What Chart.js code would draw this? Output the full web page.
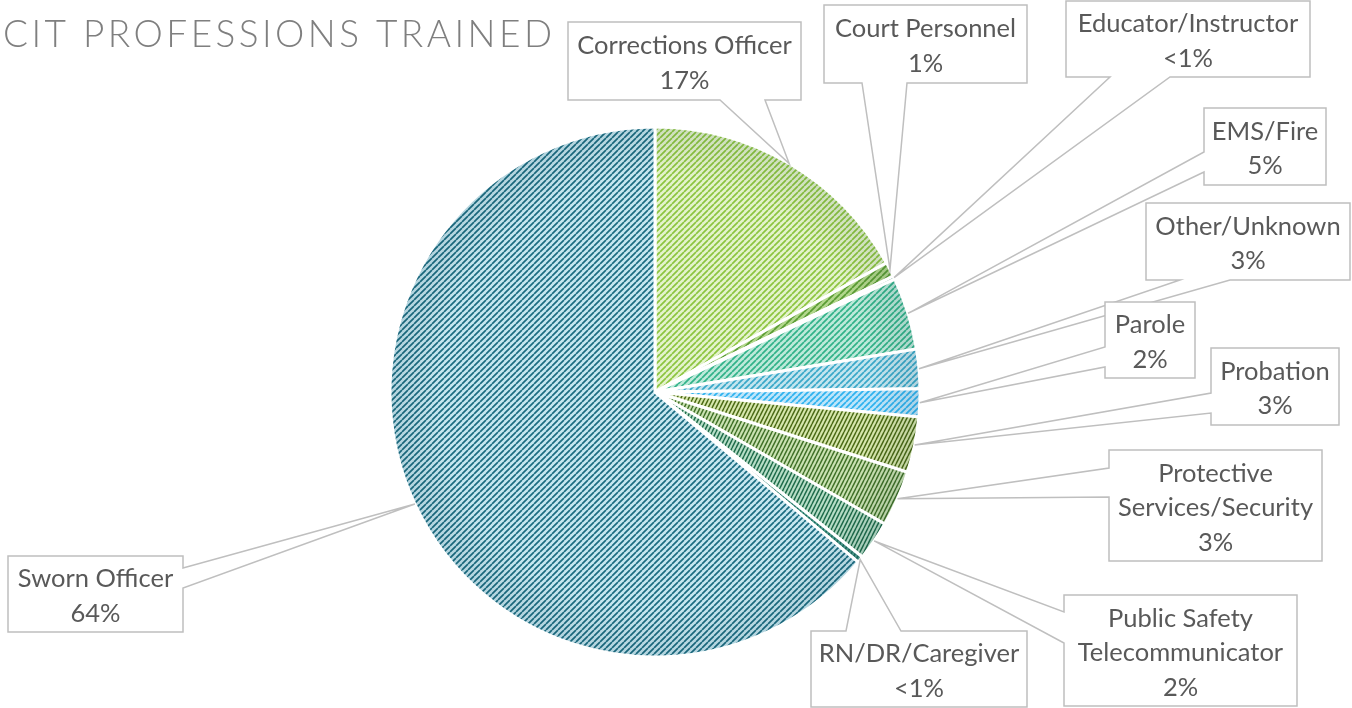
<!DOCTYPE html>
<html><head><meta charset="utf-8">
<script src="https://cdn.jsdelivr.net/npm/chart.js@4.4.1/dist/chart.umd.min.js"></script>
<style>html,body{margin:0;padding:0;background:#fff;overflow:hidden}#wrap{position:relative;width:1352px;height:708px}</style>
</head><body><div id="wrap"><canvas id="c" width="1352" height="708"></canvas></div>
<script>
// ---- data ----
const titleText = 'CIT PROFESSIONS TRAINED';
const categories = ['Corrections Officer','Court Personnel','Educator/Instructor','EMS/Fire','Other/Unknown','Parole','Probation','Protective Services/Security','Public Safety Telecommunicator','RN/DR/Caregiver','Sworn Officer'];
const shares = [16.9, 0.9, 0.2, 4.4, 2.4, 1.7, 3.4, 3.4, 2.4, 0.4, 63.9];
const shareLabels = ['17%','1%','<1%','5%','3%','2%','3%','3%','2%','<1%','64%'];
const wrapBreaks = {'Protective Services/Security':['Protective','Services/Security'],'Public Safety Telecommunicator':['Public Safety','Telecommunicator']};

// ---- styles ----
const fillBg = ['#e4f3cc','#b2d78c','#6dbb8c','#bde9da','#c3e5ef','#bde5fa','#d8e8ae','#cbe3b3','#b8dfc8','#4d9c8c','#c6e7f0'];
const fillFg = ['#8cc53f','#5a9c33','#2f8a5c','#31b289','#39a8c8','#2eb2ee','#4d6c18','#42722a','#216d4c','#1b6a5d','#1b6c81'];
const steep  = [false,false,false,false,false,false,true,true,true,true,false];
// callout layout: box [x,y,w,h], pointer side, pointer base positions along that side
const callouts = [
  {box:[568,22,233,78], side:'bottom', base:[720,765]},
  {box:[824,5,203,78], side:'bottom', base:[862,907]},
  {box:[1066,1,244,76], side:'bottom', base:[1110,1170]},
  {box:[1204,108,122,77], side:'left', base:[152,172]},
  {box:[1146,203,204,77], side:'bottom', base:[1180,1230]},
  {box:[1105,302,90,76], side:'left', base:[347,367]},
  {box:[1211,348,128,77], side:'left', base:[393,413]},
  {box:[1109,450,213,111], side:'left', base:[468,497]},
  {box:[1064,595,233,111], side:'left', base:[612,643]},
  {box:[811,631,216,76], side:'top', base:[846,901]},
  {box:[8,556,175,76], side:'right', base:[568,588]}
];

function makePattern(bg, fg, st) {
  const c = document.createElement('canvas');
  const w = st ? 4 : 6, h = st ? 8 : 6;
  c.width = w; c.height = h;
  const x = c.getContext('2d');
  x.fillStyle = bg; x.fillRect(0,0,w,h);
  x.strokeStyle = fg; x.lineWidth = st ? 1.5 : 1.7;
  x.beginPath();
  for (const dx of [-w,0,w]) { x.moveTo(dx, h); x.lineTo(dx + w, 0); }
  x.stroke();
  return x.createPattern(c, 'repeat');
}
const patterns = fillBg.map((b,i)=>makePattern(b, fillFg[i], steep[i]));

const calloutPlugin = {
  id: 'callouts',
  afterDatasetsDraw(chart) {
    const ctx = chart.ctx;
    const meta = chart.getDatasetMeta(0);
    ctx.save();
    // subtle shading at outer rim
    const a0 = meta.data[0];
    const g = ctx.createRadialGradient(a0.x, a0.y, a0.outerRadius*0.82, a0.x, a0.y, a0.outerRadius);
    g.addColorStop(0,'rgba(0,0,0,0)'); g.addColorStop(1,'rgba(0,40,60,0.10)');
    meta.data.forEach(arc => {
      ctx.beginPath();
      ctx.moveTo(arc.x, arc.y);
      ctx.arc(arc.x, arc.y, arc.outerRadius - 1.5, arc.startAngle + 0.006, arc.endAngle - 0.006);
      ctx.closePath();
      ctx.fillStyle = g; ctx.fill();
    });
    ctx.font = '25.5px Lato, "Open Sans", sans-serif';
    ctx.textAlign = 'center'; ctx.textBaseline = 'middle';
    meta.data.forEach((arc, i) => {
      const co = callouts[i];
      const mid = (arc.startAngle + arc.endAngle) / 2;
      const ax = arc.x + Math.cos(mid) * arc.outerRadius;
      const ay = arc.y + Math.sin(mid) * arc.outerRadius;
      const [x,y,w,h] = co.box;
      const [a,b] = co.base;
      ctx.fillStyle = '#ffffff';
      ctx.fillRect(x, y, w, h);
      let pts;
      if (co.side === 'bottom') pts = [[x,y],[x+w,y],[x+w,y+h],[b,y+h],[ax,ay],[a,y+h],[x,y+h]];
      else if (co.side === 'top') pts = [[x,y],[a,y],[ax,ay],[b,y],[x+w,y],[x+w,y+h],[x,y+h]];
      else if (co.side === 'left') pts = [[x,y],[x+w,y],[x+w,y+h],[x,y+h],[x,b],[ax,ay],[x,a]];
      else pts = [[x,y],[x+w,y],[x+w,a],[ax,ay],[x+w,b],[x+w,y+h],[x,y+h]];
      ctx.beginPath();
      pts.forEach((p,k)=> k ? ctx.lineTo(p[0],p[1]) : ctx.moveTo(p[0],p[1]));
      ctx.closePath();
      ctx.strokeStyle = '#bfbfbf'; ctx.lineWidth = 1.5; ctx.lineJoin = 'miter';
      ctx.stroke();
      const lines = (wrapBreaks[categories[i]] || [categories[i]]).concat([shareLabels[i]]);
      const lh = 34.5;
      const cy = y + h/2 + 2.5;
      ctx.fillStyle = '#595959';
      lines.forEach((t,k)=> ctx.fillText(t, x + w/2, cy + (k - (lines.length-1)/2) * lh));
    });
    // title
    ctx.textAlign = 'left'; ctx.textBaseline = 'alphabetic';
    ctx.font = '300 37px Lato, "Open Sans", sans-serif';
    ctx.fillStyle = '#7f7f7f';
    ctx.letterSpacing = '0px';
    const plain = ctx.measureText(titleText).width;
    const ls = (549 - plain) / (titleText.length - 1);
    ctx.letterSpacing = ls + 'px';
    ctx.fillText(titleText, 3, 47);
    ctx.restore();
  }
};

new Chart(document.getElementById('c'), {
  type: 'pie',
  data: {
    labels: categories,
    datasets: [{
      data: shares,
      backgroundColor: patterns,
      borderColor: '#ffffff',
      borderWidth: 3,
      radius: 265,
      hoverOffset: 0
    }]
  },
  options: {
    responsive: false,
    animation: false,
    events: [],
    layout: { padding: { left: 390, right: 432, top: 127, bottom: 51 } },
    plugins: { legend: { display: false }, tooltip: { enabled: false }, title: { display: false } }
  },
  plugins: [calloutPlugin]
});
</script>
</body></html>
